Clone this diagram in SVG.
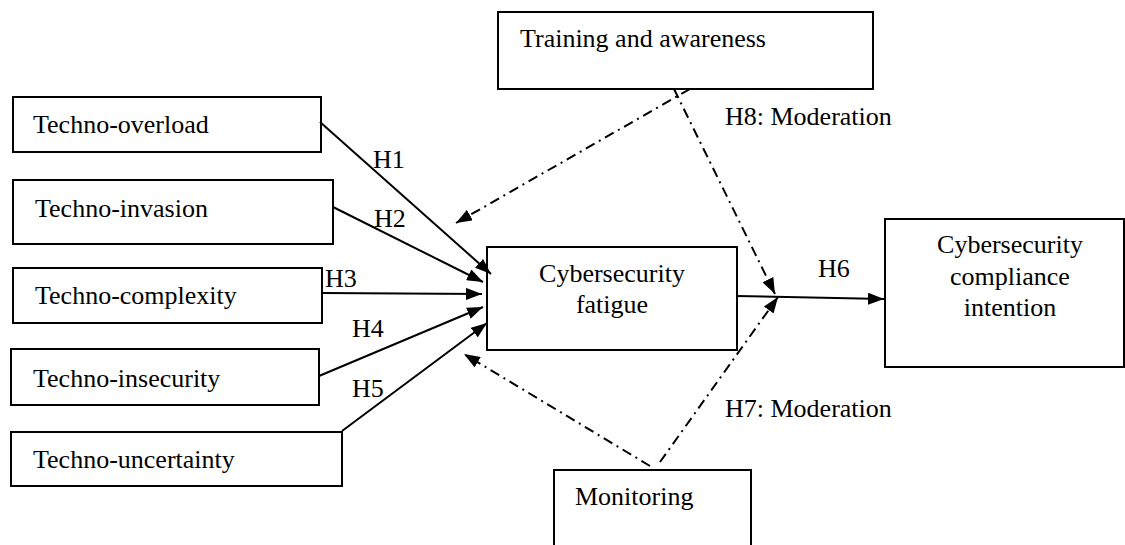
<svg xmlns="http://www.w3.org/2000/svg" width="1125" height="545" viewBox="0 0 1125 545">
<defs>
<style>
.box{fill:#fff;stroke:#000;stroke-width:2}
.t{font-family:"Liberation Serif","Times New Roman",serif;font-size:26px;fill:#000}
.c{text-anchor:middle}
.solid{stroke:#000;stroke-width:2;fill:none}
.dd{stroke:#000;stroke-width:2;fill:none;stroke-dasharray:10 5 2 5}
</style>
<marker id="ah" viewBox="0 0 16 12" refX="16" refY="6" markerWidth="16" markerHeight="12" markerUnits="userSpaceOnUse" orient="auto">
<path d="M0,0 L16,6 L0,12 Z" fill="#000"/>
</marker>
</defs>
<rect width="1125" height="545" fill="#fff"/>
<g id="n-overload"><rect class="box" x="13" y="97" width="308" height="55"/><text class="t" x="33" y="133">Techno-overload</text></g>
<g id="n-invasion"><rect class="box" x="13" y="180" width="320" height="64"/><text class="t" x="35" y="217">Techno-invasion</text></g>
<g id="n-complexity"><rect class="box" x="13" y="268" width="309" height="55"/><text class="t" x="35" y="304">Techno-complexity</text></g>
<g id="n-insecurity"><rect class="box" x="11" y="349" width="308" height="56"/><text class="t" x="33" y="387">Techno-insecurity</text></g>
<g id="n-uncertainty"><rect class="box" x="11" y="432" width="331" height="54"/><text class="t" x="33" y="468">Techno-uncertainty</text></g>
<g id="n-training"><rect class="box" x="498" y="12" width="375" height="77"/><text class="t" x="520" y="47">Training and awareness</text></g>
<g id="n-fatigue"><rect class="box" x="487" y="247" width="250" height="103"/><text class="t c" x="612" y="282">Cybersecurity</text><text class="t c" x="612" y="313">fatigue</text></g>
<g id="n-compliance"><rect class="box" x="885" y="219" width="239" height="148"/><text class="t c" x="1010" y="253">Cybersecurity</text><text class="t c" x="1010" y="285">compliance</text><text class="t c" x="1010" y="316">intention</text></g>
<g id="n-monitoring"><rect class="box" x="554" y="470" width="197" height="90"/><text class="t" x="575" y="505">Monitoring</text></g>
<g id="connectors">
<line class="solid" x1="320" y1="122" x2="491" y2="274" marker-end="url(#ah)"/>
<line class="solid" x1="333" y1="207" x2="483" y2="282" marker-end="url(#ah)"/>
<line class="solid" x1="322" y1="293" x2="482" y2="294" marker-end="url(#ah)"/>
<line class="solid" x1="319" y1="376" x2="483" y2="307" marker-end="url(#ah)"/>
<line class="solid" x1="342" y1="431" x2="487" y2="323" marker-end="url(#ah)"/>
<line class="solid" x1="736" y1="296" x2="884" y2="299" marker-end="url(#ah)"/>
<line class="dd" x1="690" y1="89" x2="456" y2="223" marker-end="url(#ah)"/>
<line class="dd" x1="674" y1="89" x2="775" y2="294" marker-end="url(#ah)"/>
<line class="dd" x1="650" y1="466" x2="464" y2="354" marker-end="url(#ah)"/>
<line class="dd" x1="660" y1="462" x2="778" y2="297" marker-end="url(#ah)"/>
</g>
<g id="labels">
<text class="t" x="373" y="168">H1</text>
<text class="t" x="374" y="227">H2</text>
<text class="t" x="325" y="287">H3</text>
<text class="t" x="352" y="337">H4</text>
<text class="t" x="352" y="397">H5</text>
<text class="t" x="818" y="277">H6</text>
<text class="t" x="725" y="125">H8: Moderation</text>
<text class="t" x="725" y="417">H7: Moderation</text>
</g>
</svg>
